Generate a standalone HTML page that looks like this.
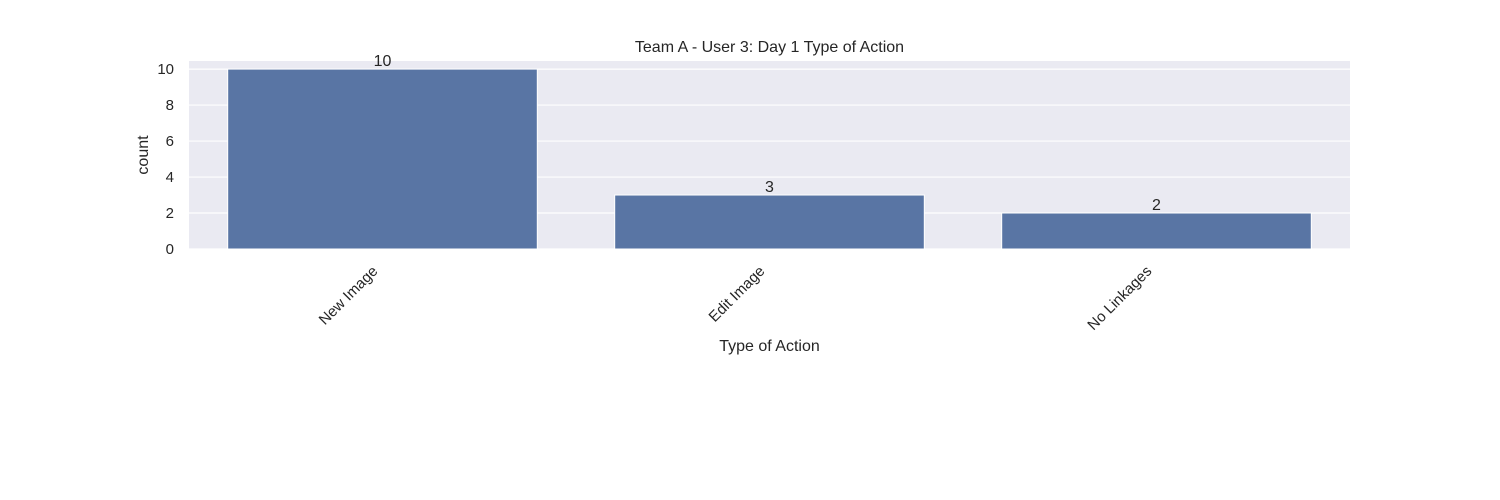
<!DOCTYPE html>
<html><head><meta charset="utf-8"><style>body{margin:0;background:#fff}svg{display:block;font-family:"Liberation Sans",sans-serif}</style></head>
<body>
<svg id="c" width="1500" height="500"></svg>
<script>
const categories = ["New Image","Edit Image","No Linkages"];
const counts = [10,3,2];
const yTicks = [0,2,4,6,8,10];
const NS="http://www.w3.org/2000/svg", svg=document.getElementById('c');
const L=189,R=1350,T=61,B=249,yMax=10.45;
const y=v=>B-(v/yMax)*(B-T);
const band=(R-L)/categories.length;
const x=i=>L+band*i+band/2;
function mk(t,a,txt){const e=document.createElementNS(NS,t);for(const k in a)e.setAttribute(k,a[k]);if(txt!=null)e.textContent=txt;svg.appendChild(e);return e;}
let e=mk('rect',{x:L,y:T,width:R-L,height:B-T,fill:'#eaeaf2'});


yTicks.forEach(v=>{
 let g=mk('line',{x1:L,x2:R,y1:y(v),y2:y(v),stroke:'#fff','stroke-width':1.2});
 
 
 let t=mk('text',{x:L-15,y:y(v)+5,'text-anchor':'end','font-size':15,fill:'#262626'},v);
 
 
});
categories.forEach((c,i)=>{
 const w=band*0.8;
 let b=mk('rect',{x:x(i)-w/2,y:y(counts[i]),width:w,height:B-y(counts[i]),fill:'#5975a4',stroke:'#fff','stroke-width':1});
 
 
 let v=mk('text',{x:x(i),y:y(counts[i])-3,'text-anchor':'middle','font-size':16,fill:'#262626'},counts[i]);
 
 
 const tx=x(i)-4, ty=B+23;
 let t=mk('text',{x:tx,y:ty,'text-anchor':'end','font-size':15,fill:'#262626',transform:`rotate(-45 ${tx} ${ty})`},c);
 
 
});
e=mk('text',{x:(L+R)/2,y:351,'text-anchor':'middle','font-size':16,fill:'#262626'},'Type of Action');


e=mk('text',{x:148,y:(T+B)/2,'text-anchor':'middle','font-size':16,fill:'#262626',transform:`rotate(-90 148 ${(T+B)/2})`},'count');


e=mk('text',{x:(L+R)/2,y:52,'text-anchor':'middle','font-size':16,fill:'#262626'},'Team A - User 3: Day 1 Type of Action');


</script>
</body></html>
